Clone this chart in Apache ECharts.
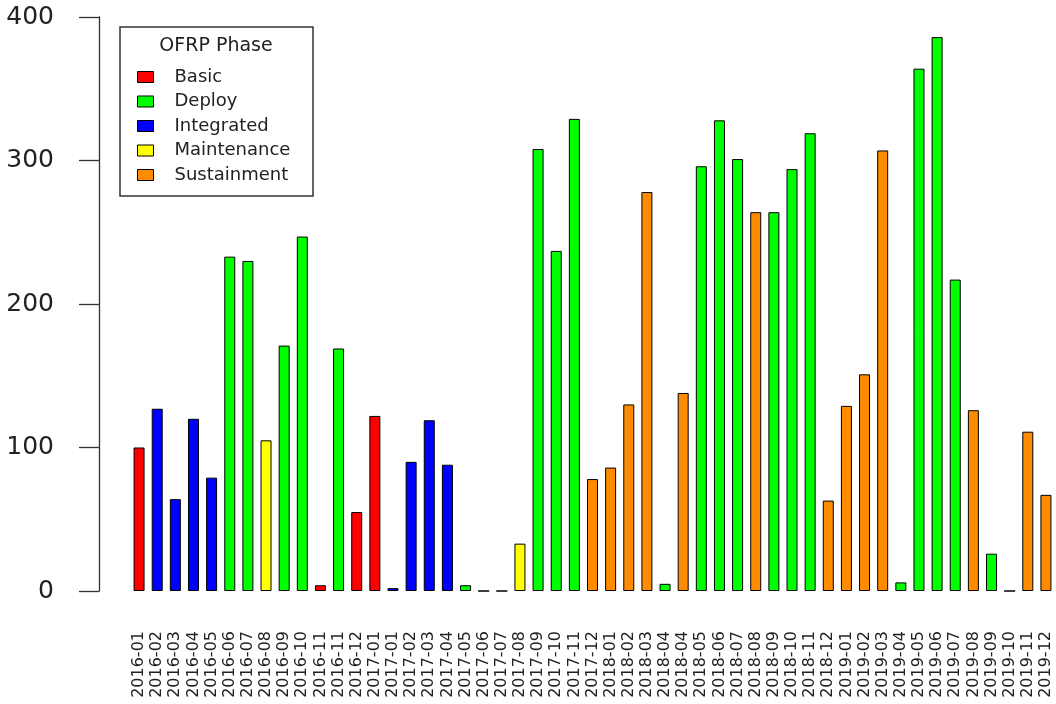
<!DOCTYPE html>
<html>
<head>
<meta charset="utf-8">
<script src="https://cdn.jsdelivr.net/npm/echarts@6/dist/echarts.min.js"></script>
<style>html,body{margin:0;padding:0;background:#fff;}#c{width:1056px;height:704px;}</style>
</head>
<body>
<div id="c"></div>
<script>
const categories = ["2016-01","2016-02","2016-03","2016-04","2016-05","2016-06","2016-07","2016-08","2016-09","2016-10",
  "2016-11","2016-11","2016-12","2017-01","2017-01","2017-02","2017-03","2017-04","2017-05","2017-06",
  "2017-07","2017-08","2017-09","2017-10","2017-11","2017-12","2018-01","2018-02","2018-03","2018-04",
  "2018-04","2018-05","2018-06","2018-07","2018-08","2018-09","2018-10","2018-11","2018-12","2019-01",
  "2019-02","2019-03","2019-04","2019-05","2019-06","2019-07","2019-08","2019-09","2019-10","2019-11","2019-12"];
const values = [100,127,64,120,79,233,230,105,171,247,
  4,169,55,122,2,90,119,88,4,0,
  0,33,308,237,329,78,86,130,278,5,
  138,296,328,301,264,264,294,319,63,129,
  151,307,6,364,386,217,126,26,0,111,67];
const phases = ["Basic","Integrated","Integrated","Integrated","Integrated","Deploy","Deploy","Maintenance","Deploy","Deploy",
  "Basic","Deploy","Basic","Basic","Integrated","Integrated","Integrated","Integrated","Deploy","Deploy",
  "Deploy","Maintenance","Deploy","Deploy","Deploy","Sustainment","Sustainment","Sustainment","Sustainment","Deploy",
  "Sustainment","Deploy","Deploy","Deploy","Sustainment","Deploy","Deploy","Deploy","Sustainment","Sustainment",
  "Sustainment","Sustainment","Deploy","Deploy","Deploy","Deploy","Sustainment","Deploy","Deploy","Sustainment","Sustainment"];
const phaseNames = ["Basic","Deploy","Integrated","Maintenance","Sustainment"];
const phaseColors = ["#FF0000","#00FF00","#0000FF","#FFFF00","#FF8C00"];
const yTicks = [0,100,200,300,400];

const series = phaseNames.map((p, k) => ({
  name: p,
  type: 'bar',
  stack: 'all',
  barWidth: 11,
  itemStyle: { color: phaseColors[k], borderColor: '#000', borderWidth: 1 },
  emphasis: { disabled: true },
  data: values.map((v, i) => phases[i] === p ? v : '-')
}));

const chart = echarts.init(document.getElementById('c'), null, { renderer: 'canvas' });
chart.setOption({
  animation: false,
  backgroundColor: '#fff',
  grid: { left: 130, right: 1, top: 17, bottom: 113, containLabel: false },
  xAxis: {
    type: 'category',
    data: categories,
    axisLine: { show: false },
    axisTick: { show: false },
    axisLabel: {
      interval: 0, rotate: 90, margin: 40,
      fontFamily: 'DejaVu Sans', fontSize: 16, color: '#222'
    }
  },
  yAxis: {
    type: 'value',
    min: yTicks[0], max: yTicks[yTicks.length - 1], interval: 100,
    offset: 31,
    splitLine: { show: false },
    axisLine: { show: true, lineStyle: { color: '#333', width: 1.3 } },
    axisTick: { show: true, length: 20, lineStyle: { color: '#333', width: 1.3 } },
    axisLabel: { margin: 45, fontFamily: 'DejaVu Sans', fontSize: 25, color: '#222' }
  },
  legend: {
    orient: 'vertical',
    left: 137, top: 68,
    padding: 0,
    itemWidth: 16, itemHeight: 11, itemGap: 6.5,
    icon: 'rect',
    selectedMode: false,
    itemStyle: { borderColor: '#000', borderWidth: 1 },
    textStyle: { fontFamily: 'DejaVu Sans', fontSize: 18, color: '#222', padding: [0, 0, 0, 16] },
    data: phaseNames
  },
  graphic: [
    { type: 'rect', shape: { x: 120, y: 27, width: 193, height: 169 },
      style: { fill: 'none', stroke: '#333', lineWidth: 1.5 }, z: 100 },
    { type: 'text', x: 216, y: 46,
      style: { text: 'OFRP Phase', fontFamily: 'DejaVu Sans', fontSize: 19, fill: '#222',
               textAlign: 'center', textVerticalAlign: 'middle' }, z: 100 }
  ],
  series: series
});
</script>
</body>
</html>
